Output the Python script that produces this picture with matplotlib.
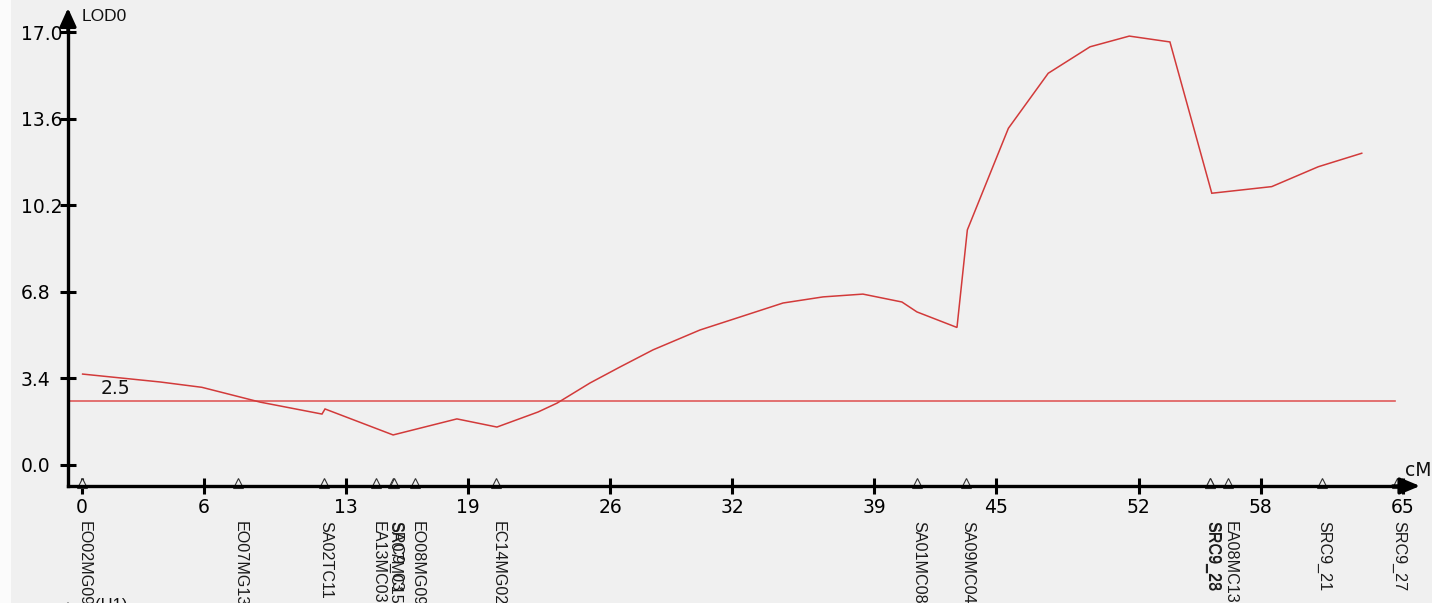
import matplotlib
matplotlib.use("Agg")
import matplotlib.pyplot as plt
from matplotlib.patches import Rectangle, FancyArrowPatch
from matplotlib.transforms import IdentityTransform

# LOD profile along the linkage group (position in cM, LOD score)
pos_cm = [0.03, 3.84, 5.9, 8.76, 11.81, 11.96, 15.31, 18.45, 20.42, 22.44,
          23.38, 25.0, 26.48, 28.1, 30.41, 32.38, 34.5, 36.47, 38.43, 40.35,
          41.09, 43.06, 43.57, 45.59, 47.55, 49.61, 51.54, 53.54, 55.6,
          58.55, 60.84, 62.98]
lod = [3.57, 3.26, 3.05, 2.47, 2.0, 2.2, 1.18, 1.81, 1.49, 2.08,
       2.43, 3.22, 3.85, 4.52, 5.3, 5.81, 6.36, 6.6, 6.71, 6.4,
       6.01, 5.4, 9.23, 13.22, 15.38, 16.42, 16.84, 16.61, 10.67,
       10.93, 11.71, 12.24]

threshold = 2.5

# Molecular markers on the group
marker_names = ["EO02MG09", "EO07MG13", "SA02TC11", "EA13MC03", "SA07MC15",
                "SRC9_03", "EO08MG09", "EC14MG02", "SA01MC08", "SA09MC04",
                "SRC9_28", "SRC9_23", "EA08MC13", "SRC9_21", "SRC9_27"]
marker_pos = [0.0, 7.68, 11.91, 14.47, 15.31, 15.33, 16.39, 20.37, 41.09,
              43.50, 55.51, 55.53, 56.40, 61.01, 64.70]

x_ticks = [0, 6, 13, 19, 26, 32, 39, 45, 52, 58, 65]
y_ticks = [0.0, 3.4, 6.8, 10.2, 13.6, 17.0]
y_tick_labels = ["0.0", "3.4", "6.8", "10.2", "13.6", "17.0"]

BG = "#f0f0f0"
RED = "#d23a3a"
W, H = 1432, 603

fig = plt.figure(figsize=(W / 100, H / 100), dpi=100, facecolor=BG)
fig.patches.append(Rectangle((0, 0), 11 / W, 1, transform=fig.transFigure,
                             facecolor="#fbfbfb", edgecolor="none", zorder=0))
ax = fig.add_axes([0, 0, 1, 1])
ax.set_facecolor("none")

px_per_cm = 20.32
px_per_lod = 25.47
x0_px, y0_px = 82, 465
ax.set_xlim(-x0_px / px_per_cm, (W - x0_px) / px_per_cm)
ax.set_ylim(-(H - y0_px) / px_per_lod, y0_px / px_per_lod)

x_axis_at = -0.689   # cM position of the vertical axis
y_axis_at = -0.824   # LOD position of the horizontal axis
x_end = 65.85
y_end = 17.94

# Spines acting as the two axes
for side in ("top", "right"):
    ax.spines[side].set_visible(False)
ax.spines["left"].set_position(("data", x_axis_at))
ax.spines["bottom"].set_position(("data", y_axis_at))
ax.spines["left"].set_bounds(y_axis_at, 17.3)
ax.spines["bottom"].set_bounds(x_axis_at, 65.2)
for side in ("left", "bottom"):
    ax.spines[side].set_linewidth(2.4)
    ax.spines[side].set_color("black")
    ax.spines[side].set_zorder(5)

ax.annotate("", xy=(x_axis_at, y_end), xytext=(x_axis_at, 17.0),
            arrowprops=dict(arrowstyle="-|>,head_length=0.55,head_width=0.25",
                            lw=2.4, color="black", shrinkA=0, shrinkB=0,
                            mutation_scale=20), zorder=6)
ax.annotate("", xy=(x_end, y_axis_at), xytext=(64.5, y_axis_at),
            arrowprops=dict(arrowstyle="-|>,head_length=0.6,head_width=0.25",
                            lw=2.4, color="black", shrinkA=0, shrinkB=0,
                            mutation_scale=20), zorder=6)

ax.set_xticks(x_ticks)
ax.set_xticklabels([str(t) for t in x_ticks])
ax.set_yticks(y_ticks)
ax.set_yticklabels(y_tick_labels)
ax.tick_params(axis="both", direction="inout", length=11, width=2.2,
               colors="black", labelsize=13.5)
ax.tick_params(axis="x", pad=3)
ax.tick_params(axis="y", pad=28.5)
for lab in ax.get_yticklabels():
    lab.set_ha("left")
for lab in ax.get_xticklabels() + ax.get_yticklabels():
    lab.set_family("DejaVu Sans")

# LOD curve and significance threshold
ax.plot(pos_cm, lod, color=RED, lw=1.1, zorder=3, solid_joinstyle="miter")
ax.plot([x_axis_at, 64.6], [threshold, threshold], color="#e05a5a", lw=1.2,
        zorder=2)
ax.text(0.9, 2.63, "2.5", family="DejaVu Sans", fontsize=13.5, ha="left",
        va="bottom", color="#111111")

# Axis titles
ax.text(0.0, 17.6, "LOD0", family="Liberation Sans", fontsize=12.5, ha="left",
        va="center", color="#111111")
ax.text(65.1, -0.2, "cM", family="DejaVu Sans", fontsize=13.5, ha="left",
        va="center", color="#111111")

# Marker triangles and names
ax.plot(marker_pos, [-0.71] * len(marker_pos), linestyle="none", marker="^",
        markersize=7, markerfacecolor=BG, markeredgecolor="#333333",
        markeredgewidth=0.8, zorder=4)
for name, p in zip(marker_names, marker_pos):
    ax.text(p + 0.1, -2.2, name, rotation=270, family="Liberation Sans",
            fontsize=11.6, ha="center", va="top", color="#1a1a1a")

# Top of the next panel, cut off at the bottom edge
fig.add_artist(FancyArrowPatch(posA=(68, -30), posB=(68, 5),
                               transform=IdentityTransform(),
                               arrowstyle="-|>,head_length=0.5,head_width=0.25",
                               mutation_scale=20, lw=2.2, color="black"))
fig.text(95 / W, 1 - 598 / H, "(H1)", family="Liberation Sans", fontsize=12,
         ha="left", va="top", color="#111111")

fig.savefig("out.png", dpi=100, facecolor=BG)
